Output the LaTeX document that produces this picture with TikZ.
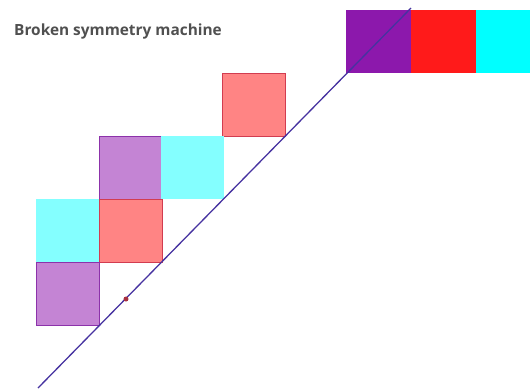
\documentclass[tikz,border=0pt]{standalone}
\usepackage{fontspec}
\setmainfont{Open Sans}
\definecolor{dpurple}{RGB}{140,24,172}
\definecolor{dred}{RGB}{255,26,26}
\definecolor{dcyan}{RGB}{0,255,255}
\definecolor{lpurple}{RGB}{196,132,212}
\definecolor{lpink}{RGB}{255,132,132}
\definecolor{lcyan}{RGB}{132,255,255}
\definecolor{bpurple}{RGB}{140,50,170}
\definecolor{bred}{RGB}{210,60,80}
\definecolor{linecol}{RGB}{70,50,160}
\definecolor{titlecol}{RGB}{80,80,80}
\begin{document}
\begin{tikzpicture}[x=1pt,y=-1pt,
  sq/.style={minimum width=63pt,minimum height=63pt,inner sep=0pt,outer sep=0pt,anchor=north west},
  topsq/.style={minimum width=65pt,minimum height=63pt,inner sep=0pt,outer sep=0pt,anchor=north west},
  psq/.style={sq,fill=lpurple,draw=bpurple,line width=1pt},
  rsq/.style={sq,fill=lpink,draw=bred,line width=1pt},
  csq/.style={sq,fill=lcyan}]
\useasboundingbox (0,0) rectangle (530,391);
% top row
\node[topsq,fill=dpurple] (t1) at (346,10) {};
\node[topsq,fill=dred] (t2) at (411,10) {};
\node[topsq,fill=dcyan] (t3) at (476,10) {};
% staircase
\node[rsq] (s1) at (222,73) {};
\node[psq] (s2) at (99,136) {};
\node[csq] (s3) at (161,136) {};
\node[csq] (s4) at (36,199) {};
\node[rsq] (s5) at (99,199) {};
\node[psq] (s6) at (36,262) {};
% title
\node[anchor=west,inner sep=0pt,text=titlecol,font=\bfseries\fontsize{15.4}{18}\selectfont] (title) at (14,31) {Broken symmetry machine};
% diagonal line
\coordinate (la) at (38,388);
\coordinate (lb) at (411,8);
\draw[linecol,line width=1.3pt] (la) -- (lb);
% dot
\node[circle,fill=bred!80!black,inner sep=0pt,minimum size=5pt] (dot) at (126,299) {};
\end{tikzpicture}
\end{document}
